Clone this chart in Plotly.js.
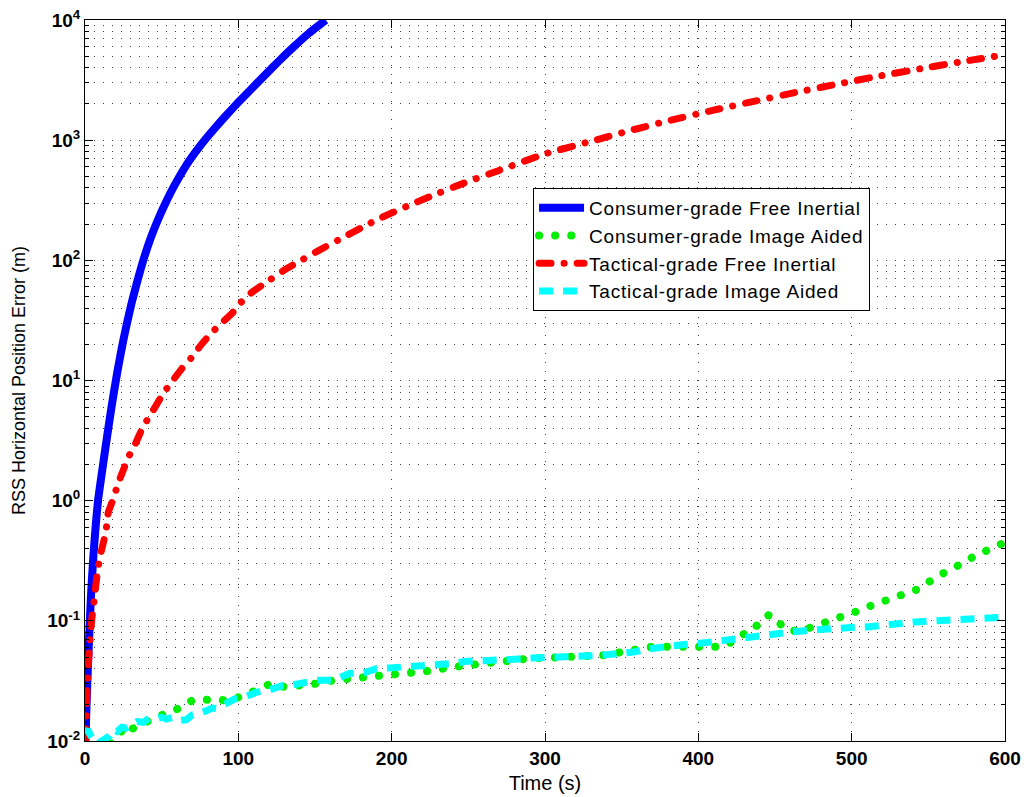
<!DOCTYPE html>
<html>
<head>
<meta charset="utf-8">
<script src="https://cdn.plot.ly/plotly-3.0.1.min.js"></script>
<style>
html,body{margin:0;padding:0;background:#fff;}
#chart{width:1026px;height:797px;}
.scatterlayer .trace:nth-child(2) .js-line,
.scatterlayer .trace:nth-child(3) .js-line,
.legend .traces:nth-child(2) .js-line,
.legend .traces:nth-child(3) .js-line{stroke-linecap:round;}
.legendtext{letter-spacing:0.8px;}
</style>
</head>
<body>
<div id="chart"></div>
<script>
// ---- data ----
const seriesNames = [
  'Consumer-grade Free Inertial',
  'Consumer-grade Image Aided',
  'Tactical-grade Free Inertial',
  'Tactical-grade Image Aided'
];

const consumerFreeT = [0.3, 1, 2, 3, 4, 5.5, 7, 8.5, 11, 13, 15, 17, 19, 21, 23, 25, 27.5, 30.5, 34, 38, 43, 48, 53, 58, 65, 72, 78, 85, 92, 100, 108, 118, 127, 136, 146, 157];
const consumerFreeE = [0.01, 0.02, 0.045, 0.09, 0.17, 0.35, 0.62, 1.0, 1.7, 2.57, 3.85, 5.7, 8.2, 11.6, 16, 21.6, 30.5, 44.7, 66, 100, 155, 224, 309, 412, 589, 794, 1000, 1274, 1603, 2065, 2630, 3548, 4624, 5957, 7762, 10000];

const consumerAidedT = [17, 20, 23, 25.6, 27, 30, 34, 38, 42, 45, 49, 53, 57.6, 62, 66, 70.6, 75, 79, 83.6, 88, 92, 97, 101, 106, 110, 114, 120.7, 126, 131, 136, 140, 151, 162, 173, 184, 194.6, 203, 210, 218, 227, 238, 249, 260, 270.7, 281, 292, 303, 314, 327, 338, 350, 360, 368.6, 380, 390, 401, 410, 416, 421, 425, 430, 436, 440, 445.7, 451, 455, 460, 466, 471, 477, 482, 488, 494, 499, 505, 510, 515, 520.6, 526, 531.6, 537, 542.5, 548, 553, 558, 564, 569, 575, 580, 586, 591, 597, 600];
const consumerAidedE = [0.0095, 0.0105, 0.0118, 0.0128, 0.0135, 0.0125, 0.0135, 0.014, 0.0148, 0.0155, 0.0164, 0.017, 0.0177, 0.019, 0.0205, 0.022, 0.022, 0.022, 0.0226, 0.0222, 0.0215, 0.022, 0.0235, 0.0245, 0.026, 0.027, 0.030, 0.0295, 0.028, 0.0287, 0.029, 0.030, 0.032, 0.033, 0.034, 0.035, 0.0355, 0.0366, 0.037, 0.0386, 0.041, 0.0427, 0.0445, 0.046, 0.0475, 0.049, 0.0492, 0.0495, 0.050, 0.0516, 0.055, 0.058, 0.0605, 0.061, 0.0605, 0.061, 0.0615, 0.061, 0.066, 0.073, 0.078, 0.083, 0.100, 0.111, 0.106, 0.088, 0.083, 0.082, 0.086, 0.091, 0.097, 0.103, 0.109, 0.115, 0.122, 0.130, 0.136, 0.143, 0.152, 0.162, 0.172, 0.182, 0.202, 0.226, 0.243, 0.263, 0.29, 0.32, 0.345, 0.374, 0.40, 0.434, 0.45];

const tacticalFreeT = [0.3, 1, 1.6, 2.5, 3.3, 4.3, 6, 8, 10, 13.7, 15.2, 18, 21.7, 25, 28.3, 33, 37, 41, 45.7, 51, 56.5, 63, 69.6, 76, 82.6, 89, 95.7, 102, 108.7, 120, 130, 141, 152, 169.6, 180, 192.4, 210, 225, 246.7, 270, 301, 330, 355.5, 380, 410, 437, 464.5, 490, 518.6, 545, 572.8, 600];
const tacticalFreeE = [0.01, 0.02, 0.03, 0.05, 0.07, 0.1, 0.15, 0.25, 0.35, 0.56, 0.8, 1.0, 1.4, 1.8, 2.3, 3.0, 3.9, 4.8, 6, 7.8, 9.7, 12.5, 15.6, 20, 25, 30, 36, 45, 54, 68, 83, 100, 120, 158, 186, 224, 282, 339, 437, 560, 776, 977, 1202, 1445, 1778, 2113, 2512, 2917, 3428, 3936, 4519, 5129];

const tacticalAidedT = [0, 1, 2, 3, 4, 5, 6, 8, 10, 12, 14, 16, 18.5, 21, 24, 27, 30, 34, 38, 42, 46, 50, 53, 57, 61, 66, 70, 75, 79, 83, 86, 90, 97, 104, 112, 118.5, 124, 129, 135, 140, 151, 162, 173, 182, 190, 198, 205.5, 215, 227, 238, 249, 260, 270.7, 281, 292, 303, 314, 325, 336, 347, 357.6, 366, 375, 388, 401, 412, 423, 436, 445, 453, 462, 470.7, 480, 488, 499, 510, 521, 531.6, 542, 553, 564, 575, 586, 597, 600];
const tacticalAidedE = [0.0115, 0.012, 0.0125, 0.0115, 0.0108, 0.0102, 0.0098, 0.0095, 0.0098, 0.0104, 0.0108, 0.011, 0.0125, 0.012, 0.013, 0.0128, 0.0135, 0.0145, 0.0143, 0.0155, 0.0152, 0.0158, 0.0152, 0.0157, 0.0148, 0.0150, 0.0165, 0.017, 0.0178, 0.0188, 0.0186, 0.0198, 0.0222, 0.0232, 0.0255, 0.0262, 0.0275, 0.029, 0.0292, 0.030, 0.032, 0.032, 0.0366, 0.037, 0.040, 0.0405, 0.041, 0.0415, 0.0427, 0.044, 0.046, 0.0462, 0.047, 0.048, 0.049, 0.0492, 0.0497, 0.051, 0.0516, 0.053, 0.055, 0.058, 0.0605, 0.063, 0.065, 0.068, 0.071, 0.073, 0.076, 0.080, 0.081, 0.083, 0.085, 0.087, 0.088, 0.089, 0.093, 0.0966, 0.098, 0.100, 0.101, 0.103, 0.105, 0.107, 0.108];

const yTickVals = [0.01, 0.1, 1, 10, 100, 1000, 10000];
const yTickText = ['10<sup>-2</sup>', '10<sup>-1</sup>', '10<sup>0</sup>', '10<sup>1</sup>', '10<sup>2</sup>', '10<sup>3</sup>', '10<sup>4</sup>'];
const xTickVals = [0, 100, 200, 300, 400, 500, 600];

const xTitle = 'Time (s)';
const yTitle = 'RSS Horizontal Position Error (m)';

// ---- traces ----
const traces = [
  {x: consumerFreeT, y: consumerFreeE, name: seriesNames[0], mode: 'lines',
   line: {color: '#0000ff', width: 8, shape: 'spline', smoothing: 0.5}},
  {x: consumerAidedT, y: consumerAidedE, name: seriesNames[1], mode: 'lines',
   line: {color: '#00ee00', width: 8, dash: '0.1px,16px'}},
  {x: tacticalFreeT, y: tacticalFreeE, name: seriesNames[2], mode: 'lines',
   line: {color: '#ff0000', width: 7, dash: '12px,13px,0.1px,13px', shape: 'spline', smoothing: 0.5}},
  {x: tacticalAidedT, y: tacticalAidedE, name: seriesNames[3], mode: 'lines',
   line: {color: '#00ffff', width: 7, dash: '14px,10px'}}
];

const font = 'Liberation Sans, Arial, Helvetica, sans-serif';
const gridDash = '1px,8px';
const gridColor = '#444';

const layout = {
  width: 1026, height: 797,
  paper_bgcolor: '#fff', plot_bgcolor: '#fff',
  margin: {l: 85, r: 21, t: 20, b: 56},
  font: {family: font, color: '#000'},
  showlegend: true,
  legend: {
    x: 0.487, y: 0.767, xanchor: 'left', yanchor: 'top',
    bgcolor: '#fff', bordercolor: '#000', borderwidth: 1,
    font: {family: font, size: 19, color: '#000'},
    itemwidth: 45,
    tracegroupgap: 0
  },
  xaxis: {
    range: [0, 600], tickmode: 'array', tickvals: xTickVals,
    showline: true, linecolor: '#000', linewidth: 1, mirror: 'ticks',
    ticks: 'inside', ticklen: 8, tickcolor: '#000',
    showgrid: true, gridcolor: gridColor, griddash: gridDash, gridwidth: 1,
    zeroline: false,
    tickfont: {family: font, size: 19, color: '#000', weight: 'bold'},
    title: {text: xTitle, font: {family: font, size: 20, color: '#000'}, standoff: 8}
  },
  yaxis: {
    type: 'log', range: [-2, 4],
    tickmode: 'array', tickvals: yTickVals, ticktext: yTickText,
    showline: true, linecolor: '#000', linewidth: 1, mirror: 'ticks',
    ticks: 'inside', ticklen: 8, tickcolor: '#000',
    showgrid: true, gridcolor: gridColor, griddash: gridDash, gridwidth: 1,
    zeroline: false,
    minor: {dtick: 'D1', ticks: 'inside', ticklen: 4, tickcolor: '#000',
            showgrid: true, gridcolor: gridColor, griddash: gridDash, gridwidth: 1},
    tickfont: {family: font, size: 19, color: '#000', weight: 'bold'},
    title: {text: yTitle, font: {family: font, size: 18, color: '#000'}, standoff: 16}
  }
};

Plotly.newPlot('chart', traces, layout, {displayModeBar: false, staticPlot: true});
</script>
</body>
</html>
